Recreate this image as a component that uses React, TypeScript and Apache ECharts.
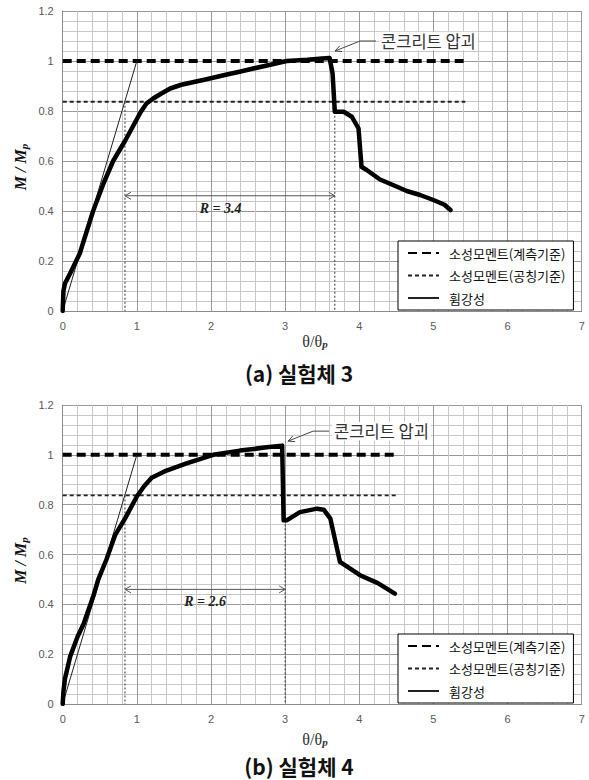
import React, { useEffect, useRef } from "react";
import * as echarts from "echarts";

// ---------- data ----------
const X_MIN = 0;
const X_MAX = 7;
const X_STEP = 1;
const Y_MIN = 0;
const Y_MAX = 1.2;
const Y_STEP = 0.2;

const legendNames = ["소성모멘트(계측기준)", "소성모멘트(공칭기준)", "휨강성"];
const captions = ["(a) 실험체 3", "(b) 실험체 4"];
const annotationText = "콘크리트 압괴";

const curveA: number[][] = [
  [0, 0], [0.01, 0.08], [0.03, 0.11], [0.1, 0.15], [0.23, 0.23], [0.41, 0.4],
  [0.55, 0.51], [0.68, 0.6], [0.84, 0.68], [0.95, 0.74], [1.05, 0.795],
  [1.13, 0.83], [1.22, 0.85], [1.32, 0.868], [1.45, 0.89], [1.6, 0.905],
  [1.8, 0.918], [1.94, 0.927], [2.2, 0.945], [2.4, 0.958], [2.57, 0.97],
  [2.8, 0.985], [3.02, 1.0], [3.3, 1.005], [3.5, 1.01], [3.6, 1.012],
  [3.64, 0.95], [3.67, 0.797], [3.79, 0.797], [3.9, 0.777], [3.99, 0.73],
  [4.03, 0.577], [4.1, 0.564], [4.28, 0.526], [4.51, 0.497], [4.64, 0.48],
  [4.82, 0.464], [5.0, 0.444], [5.15, 0.425], [5.23, 0.404],
];

const curveB: number[][] = [
  [0, 0], [0.01, 0.05], [0.03, 0.1], [0.1, 0.19], [0.2, 0.27], [0.28, 0.32],
  [0.41, 0.43], [0.48, 0.5], [0.59, 0.58], [0.71, 0.68], [0.84, 0.744],
  [1.0, 0.833], [1.1, 0.875], [1.2, 0.908], [1.4, 0.937], [1.67, 0.966],
  [2.03, 1.0], [2.39, 1.017], [2.75, 1.03], [2.96, 1.037], [2.98, 0.737],
  [3.02, 0.737], [3.2, 0.77], [3.43, 0.784], [3.52, 0.78], [3.61, 0.744],
  [3.74, 0.57], [4.01, 0.517], [4.25, 0.485], [4.48, 0.443],
];

const curves = [curveA, curveB];
const measuredMp = [1.0, 1.0];
const nominalMp = [0.837, 0.837];
const refLineEnd = [5.43, 4.5];
const stiffnessEnd: number[][] = [[1.0, 1.0], [1.0, 1.0]];
const yieldRot = [0.84, 0.84];
const ultRot = [3.67, 3.0];
const ultM = [0.797, 0.737];
const rArrowY = [0.461, 0.46];
const rLabels = ["R = 3.4", "R = 2.6"];
const rLabelPos: number[][] = [[2.13, 0.41], [1.92, 0.41]];
const crushTip: number[][] = [[3.673, 1.04], [3.04, 1.055]];

// ---------- layout ----------
const GRIDS = [
  { left: 62.7, top: 11, width: 519, height: 300 },
  { left: 62.7, top: 405, width: 519, height: 299 },
];
const LEGEND_TOP = [241, 634];
const XNAME_Y = [341, 739];
const CAPTION_Y = [373, 766];

export default function App() {
  const ref = useRef<HTMLDivElement | null>(null);

  useEffect(() => {
    if (!ref.current) return;
    const chart = echarts.init(ref.current, null, { renderer: "svg" });

    const axisCommon = {
      type: "value" as const,
      axisLine: { show: true, lineStyle: { color: "#8c8c8c", width: 1 } },
      axisTick: { show: false },
      splitLine: { show: true, lineStyle: { color: "#9a9a9a", width: 1 } },
      minorTick: { show: false, splitNumber: 5 },
      minorSplitLine: { show: true, lineStyle: { color: "#c8c8c8", width: 1 } },
      axisLabel: {
        color: "#595959",
        fontSize: 11,
        fontFamily: "Liberation Sans, Arial, sans-serif",
      },
    };

    const xAxis = GRIDS.map((_, g) => ({
      ...axisCommon,
      gridIndex: g,
      min: X_MIN,
      max: X_MAX,
      interval: X_STEP,
      axisLabel: { ...axisCommon.axisLabel, margin: 9 },
    }));
    const yAxis = GRIDS.map((_, g) => ({
      ...axisCommon,
      gridIndex: g,
      min: Y_MIN,
      max: Y_MAX,
      interval: Y_STEP,
      axisLabel: { ...axisCommon.axisLabel, margin: 9 },
    }));

    const series: any[] = [];
    GRIDS.forEach((_, g) => {
      const base = { type: "line", xAxisIndex: g, yAxisIndex: g, symbol: "none", silent: true, animation: false };
      series.push({
        ...base,
        name: legendNames[0],
        color: "#000",
        data: [[0, measuredMp[g]], [refLineEnd[g], measuredMp[g]]],
        lineStyle: { color: "#000", width: 4, type: [9, 5] },
        z: 3,
      });
      series.push({
        ...base,
        name: legendNames[1],
        color: "#222",
        data: [[0, nominalMp[g]], [refLineEnd[g], nominalMp[g]]],
        lineStyle: { color: "#222", width: 1.8, type: [4, 3] },
        z: 3,
      });
      series.push({
        ...base,
        name: legendNames[2],
        color: "#222",
        data: [[0, 0], stiffnessEnd[g]],
        lineStyle: { color: "#222", width: 1 },
        z: 4,
      });
      series.push({
        ...base,
        name: "yield-" + g,
        data: [[yieldRot[g], nominalMp[g]], [yieldRot[g], 0]],
        lineStyle: { color: "#333", width: 1, type: [2, 2] },
        z: 3,
      });
      series.push({
        ...base,
        name: "ult-" + g,
        data: [[ultRot[g], ultM[g]], [ultRot[g], 0]],
        lineStyle: { color: "#333", width: 1, type: [2, 2] },
        z: 3,
      });
      series.push({
        ...base,
        name: "R-" + g,
        data: [[yieldRot[g], rArrowY[g]], [ultRot[g], rArrowY[g]]],
        lineStyle: { color: "#555", width: 1 },
        z: 3,
      });
      series.push({
        ...base,
        name: "curve-" + g,
        color: "#000",
        data: curves[g],
        lineStyle: { color: "#000", width: 4.5, join: "round", cap: "round" },
        z: 6,
      });
    });

    const legend = GRIDS.map((_, g) => ({
      data: legendNames,
      orient: "vertical",
      left: 398,
      top: LEGEND_TOP[g],
      itemWidth: 31,
      itemHeight: 10,
      itemGap: 9.5,
      padding: [5.5, 8, 5.5, 9],
      borderColor: "#000",
      borderWidth: 1,
      backgroundColor: "#fff",
      selectedMode: false,
      itemStyle: { opacity: 0 },
      textStyle: {
        fontSize: 13,
        color: "#111",
        fontFamily: "Noto Sans CJK KR, sans-serif",
        padding: [0, 0, 0, 5],
      },
      z: 10,
    }));

    chart.setOption({
      animation: false,
      backgroundColor: "#fff",
      grid: GRIDS.map((gr) => ({ ...gr, containLabel: false })),
      xAxis,
      yAxis,
      legend,
      series,
    });

    // ----- annotations in pixel space derived from data coordinates -----
    const graphic: any[] = [];
    const serif = "Liberation Serif, DejaVu Serif, serif";
    GRIDS.forEach((gr, g) => {
      const px = (p: number[]) => chart.convertToPixel({ gridIndex: g }, p) as number[];

      // R arrow heads
      const L = px([yieldRot[g], rArrowY[g]]);
      const R = px([ultRot[g], rArrowY[g]]);
      graphic.push({
        type: "polyline",
        shape: { points: [[L[0] + 6, L[1] - 3.5], [L[0], L[1]], [L[0] + 6, L[1] + 3.5]] },
        style: { stroke: "#555", lineWidth: 1, fill: null },
        z: 20,
      });
      graphic.push({
        type: "polyline",
        shape: { points: [[R[0] - 6, R[1] - 3.5], [R[0], R[1]], [R[0] - 6, R[1] + 3.5]] },
        style: { stroke: "#555", lineWidth: 1, fill: null },
        z: 20,
      });
      // R label
      const lp = px(rLabelPos[g]);
      graphic.push({
        type: "text",
        x: lp[0],
        y: lp[1],
        style: {
          text: rLabels[g],
          font: `italic bold 14px ${serif}`,
          fill: "#222",
          align: "center",
          verticalAlign: "middle",
        },
        z: 20,
      });

      // crushing annotation
      const tip = px(crushTip[g]);
      const elbow = [tip[0] + 25, tip[1] - 10];
      const end = [tip[0] + 41, tip[1] - 10];
      graphic.push({
        type: "polyline",
        shape: { points: [tip, elbow, end] },
        style: { stroke: "#444", lineWidth: 1, fill: null },
        z: 20,
      });
      const dx = elbow[0] - tip[0];
      const dy = elbow[1] - tip[1];
      const len = Math.hypot(dx, dy);
      const ux = dx / len;
      const uy = dy / len;
      const ah = 7;
      const ang = 0.45;
      const rot = (a: number) => [
        tip[0] + ah * (ux * Math.cos(a) - uy * Math.sin(a)),
        tip[1] + ah * (ux * Math.sin(a) + uy * Math.cos(a)),
      ];
      graphic.push({
        type: "polyline",
        shape: { points: [rot(ang), tip, rot(-ang)] },
        style: { stroke: "#444", lineWidth: 1, fill: null },
        z: 20,
      });
      graphic.push({
        type: "text",
        x: end[0] + 3,
        y: end[1],
        style: {
          text: annotationText,
          font: "16.5px Noto Sans CJK KR, sans-serif",
          fill: "#333",
          align: "left",
          verticalAlign: "middle",
          backgroundColor: "#fff",
          padding: [1, 2],
        },
        z: 20,
      });

      // axis names
      graphic.push({
        type: "text",
        x: 315,
        y: XNAME_Y[g],
        style: {
          text: "{a|θ/θ}{b|p}",
          align: "center",
          verticalAlign: "middle",
          rich: {
            a: { fontSize: 16, fontFamily: serif, fill: "#333", lineHeight: 16 },
            b: { fontSize: 11, fontFamily: serif, fontWeight: "bold", fontStyle: "italic", fill: "#333", padding: [6, 0, 0, 0], lineHeight: 11 },
          },
        },
        z: 20,
      });
      graphic.push({
        type: "text",
        x: 20,
        y: gr.top + gr.height / 2 + 6,
        rotation: Math.PI / 2,
        style: {
          text: "{a|M / M}{b|p}",
          align: "center",
          verticalAlign: "middle",
          rich: {
            a: { fontSize: 16, fontFamily: serif, fontWeight: "bold", fontStyle: "italic", fill: "#111", lineHeight: 20 },
            b: { fontSize: 11, fontFamily: serif, fontWeight: "bold", fontStyle: "italic", fill: "#111", padding: [7, 0, 0, 0], lineHeight: 20 },
          },
        },
        z: 20,
      });

      // caption
      graphic.push({
        type: "text",
        x: 299,
        y: CAPTION_Y[g],
        style: {
          text: captions[g],
          font: "bold 21px Noto Sans CJK KR, sans-serif",
          fill: "#111",
          align: "center",
          verticalAlign: "middle",
        },
        z: 20,
      });
    });

    chart.setOption({ graphic });

    return () => chart.dispose();
  }, []);

  return (
    <div
      ref={ref}
      style={{ position: "fixed", left: 0, top: 0, width: 589, height: 780, background: "#fff" }}
    />
  );
}
